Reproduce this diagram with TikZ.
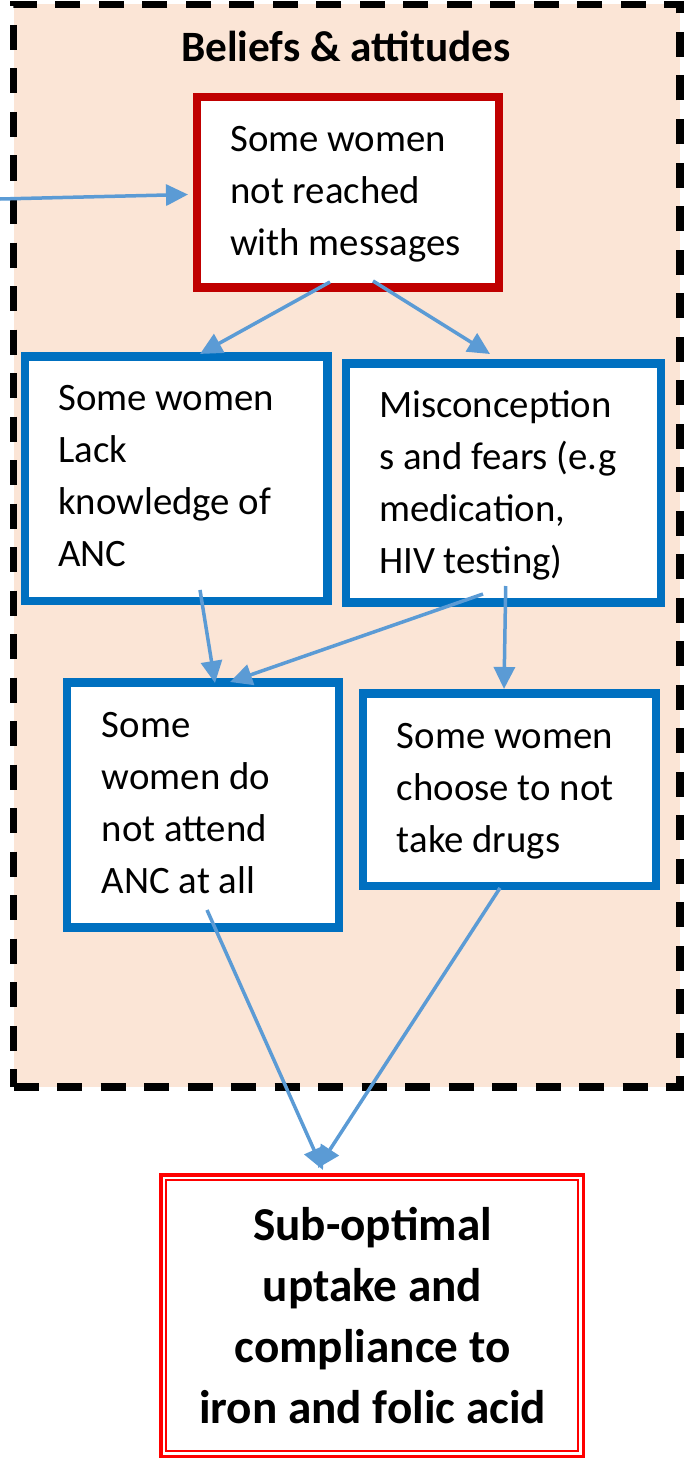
\documentclass[tikz,border=0pt]{standalone}
\usepackage{fontspec}
\setmainfont{Carlito}
\usetikzlibrary{arrows.meta}
\definecolor{peach}{HTML}{FBE5D6}
\definecolor{boxblue}{HTML}{0070C0}
\definecolor{darkred}{HTML}{C00000}
\definecolor{arrowblue}{HTML}{5B9BD5}
\definecolor{brightred}{HTML}{FF0000}
\newcommand\ctr[1]{\hbox to 0pt{\hss #1\hss}}
\begin{document}
\begin{tikzpicture}[x=1pt,y=-1pt,
  bluebox/.style={draw=boxblue, line width=8.5pt, fill=white, inner sep=0pt, outer sep=0pt},
  redbox/.style={draw=darkred, line width=8.5pt, fill=white, inner sep=0pt, outer sep=0pt},
  finbox/.style={draw=brightred, line width=3.5pt, fill=white, inner sep=0pt, outer sep=0pt},
  txt/.style={inner sep=0pt, anchor=base west, font=\fontsize{38.8}{52}\selectfont},
  conn/.style={draw=arrowblue, line width=3.5pt, -{Triangle[length=22pt,width=21pt]}},
]
\useasboundingbox (0,0) rectangle (685,1461);
% dashed frame
\node[draw=black, fill=peach, line width=7.5pt, dash pattern=on 25pt off 18.5pt,
      minimum width=666.5pt, minimum height=1082.5pt, inner sep=0pt, outer sep=0pt]
      (frame) at (346.75,545.75) {};
\node[inner sep=0pt, anchor=base, font=\bfseries\fontsize{43.3}{50}\selectfont]
      (title) at (346,61.7) {Beliefs \& attitudes};
% boxes
\node[redbox, minimum width=301.8pt, minimum height=190.5pt] (b1) at (347.9,192.2) {};
\node[bluebox, minimum width=302.5pt, minimum height=244.5pt] (b2) at (176.2,478.5) {};
\node[bluebox, minimum width=314.8pt, minimum height=239pt] (b3) at (503.4,483) {};
\node[bluebox, minimum width=271.8pt, minimum height=245.2pt] (b4) at (202.9,804.9) {};
\node[bluebox, minimum width=293pt, minimum height=192.5pt] (b5) at (509.3,789.5) {};
\node[finbox, minimum width=422.5pt, minimum height=281.5pt] (fin) at (372,1315.5) {};
\draw[brightred, line width=1.2pt] ([shift={(5.3,5.3)}]fin.north west) rectangle ([shift={(-5.3,-5.3)}]fin.south east);
% texts
\node[txt] (t1) at (230,151.7) {\vtop{\hbox{Some women}\hbox{not reached}\hbox{with messages}}};
\node[txt] (t2) at (58,410.7) {\vtop{\hbox{Some women}\hbox{Lack}\hbox{knowledge of}\hbox{ANC}}};
\node[txt] (t3) at (379,417) {\vtop{\hbox{Misconception}\hbox{s and fears (e.g}\hbox{medication,}\hbox{HIV testing)}}};
\node[txt] (t4) at (101.7,737) {\vtop{\hbox{Some}\hbox{women do}\hbox{not attend}\hbox{ANC at all}}};
\node[txt] (t5) at (396.7,748) {\vtop{\hbox{Some women}\hbox{choose to not}\hbox{take drugs}}};
\node[inner sep=0pt, anchor=base, font=\bfseries\fontsize{47.2}{61}\selectfont] (ft) at (372.5,1240)
  {\vtop{\ctr{Sub-optimal}\ctr{uptake and}\ctr{compliance to}\ctr{iron and folic acid}}};
% connectors
\coordinate (src) at (0,199);
\draw[conn] (src) -- ([shift={(-9,2.3)}]b1.west);
\draw[conn] ([shift={(-17.9,-5.5)}]b1.south) -- ([shift={(23.8,-2.3)}]b2.north);
\draw[conn] ([shift={(25.1,-6.5)}]b1.south) -- ([shift={(-13.4,-9.5)}]b3.north);
\draw[conn] ([shift={(23.8,-10.8)}]b2.south) -- ([shift={(12.1,0.7)}]b4.north);
\draw[conn] ([shift={(-20.4,-8.5)}]b3.south) -- ([shift={(27.1,-0.3)}]b4.north);
\draw[conn] ([shift={(2.3,-16.5)}]b3.south) -- ([shift={(-5.3,-4.3)}]b5.north);
\draw[conn] ([shift={(4.1,-17.5)}]b4.south) -- ([shift={(-49,-4.75)}]fin.north);
\draw[conn] ([shift={(-9.3,2.2)}]b5.south) -- ([shift={(-54,-6.75)}]fin.north);
\end{tikzpicture}
\end{document}
